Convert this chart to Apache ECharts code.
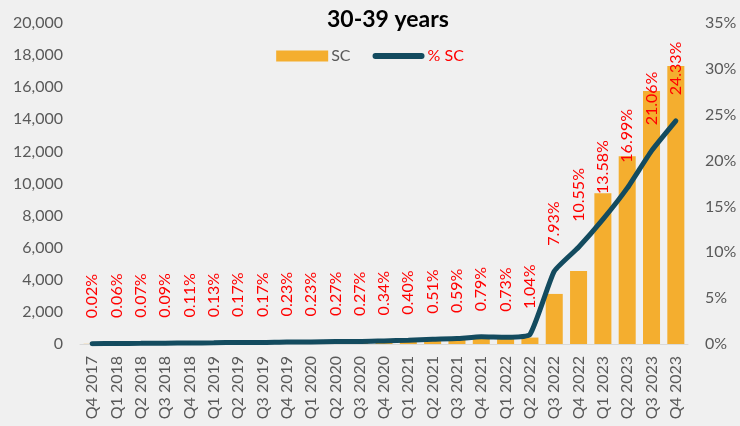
<!DOCTYPE html>
<html>
<head>
<meta charset="utf-8">
<script src="https://cdn.jsdelivr.net/npm/echarts@6/dist/echarts.min.js"></script>
<style>
  html, body { margin: 0; padding: 0; background: #f0f0f0; }
  #chart { width: 740px; height: 426px; }
</style>
</head>
<body>
<div id="chart"></div>
<script>
// 数据
const quarters = ['Q4 2017', 'Q1 2018', 'Q2 2018', 'Q3 2018', 'Q4 2018', 'Q1 2019', 'Q2 2019', 'Q3 2019',
  'Q4 2019', 'Q1 2020', 'Q2 2020', 'Q3 2020', 'Q4 2020', 'Q1 2021', 'Q2 2021', 'Q3 2021', 'Q4 2021',
  'Q1 2022', 'Q2 2022', 'Q3 2022', 'Q4 2022', 'Q1 2023', 'Q2 2023', 'Q3 2023', 'Q4 2023'];
const scCount = [10, 30, 35, 45, 55, 65, 85, 85, 115, 115, 135, 135, 170, 200, 250, 290, 390, 360, 400,
  3120, 4550, 9400, 11700, 15760, 17320];
const scPct = [0.02, 0.06, 0.07, 0.09, 0.11, 0.13, 0.17, 0.17, 0.23, 0.23, 0.27, 0.27, 0.34, 0.40, 0.51,
  0.59, 0.79, 0.73, 1.04, 7.93, 10.55, 13.58, 16.99, 21.06, 24.33];
const leftTicks = { min: 0, max: 20000, interval: 2000 };
const rightTicks = { min: 0, max: 35, interval: 5 };

const font = 'Lato, "Open Sans", sans-serif';
const lineColor = '#134b5f';
const chart = echarts.init(document.getElementById('chart'), null, { renderer: 'canvas' });

chart.setOption({
  backgroundColor: '#f0f0f0',
  animation: false,
  title: {
    text: '30-39 years',
    left: 322,
    top: 3,
    textStyle: { fontFamily: font, fontSize: 23, fontWeight: 'bold', color: '#000' },
  },
  legend: {
    top: 43,
    left: 'center',
    itemGap: 22,
    itemWidth: 52,
    itemHeight: 11,
    textStyle: { fontFamily: font, fontSize: 16, color: '#595959', padding: [0, 0, 0, -2] },
    data: [
      { name: 'SC', icon: 'rect' },
      {
        name: '% SC',
        icon: 'path://M3,0 L51,0 A3,3 0 0 1 51,6 L3,6 A3,3 0 0 1 3,0 Z',
        itemStyle: { color: lineColor, opacity: 1 },
        textStyle: { color: '#ff0000' },
      },
    ],
  },
  grid: { left: 80, right: 52, top: 23, bottom: 82 },
  xAxis: {
    type: 'category',
    data: quarters,
    axisLine: { lineStyle: { color: '#d9d9d9', width: 1 } },
    axisTick: { show: false },
    axisLabel: { rotate: 90, interval: 0, fontFamily: font, fontSize: 16, color: '#595959', margin: 12 },
  },
  yAxis: [
    {
      type: 'value',
      min: leftTicks.min,
      max: leftTicks.max,
      interval: leftTicks.interval,
      splitLine: { show: false },
      axisLine: { show: false },
      axisLabel: {
        fontFamily: font, fontSize: 16, color: '#595959', margin: 17,
        formatter: v => v.toLocaleString('en-US'),
      },
    },
    {
      type: 'value',
      min: rightTicks.min,
      max: rightTicks.max,
      interval: rightTicks.interval,
      splitLine: { show: false },
      axisLine: { show: false },
      axisLabel: { fontFamily: font, fontSize: 16, color: '#595959', margin: 17, formatter: '{value}%' },
    },
  ],
  series: [
    {
      name: 'SC',
      type: 'bar',
      data: scCount,
      barCategoryGap: '30%',
      itemStyle: { color: '#f4ae2f' },
    },
    {
      name: '% SC',
      type: 'line',
      yAxisIndex: 1,
      data: scPct,
      smooth: 0.15,
      symbol: 'circle',
      symbolSize: 3,
      showSymbol: true,
      lineStyle: { color: lineColor, width: 5, cap: 'round' },
      itemStyle: { color: lineColor },
      label: {
        show: true,
        position: 'top',
        distance: 24,
        rotate: 90,
        align: 'left',
        verticalAlign: 'middle',
        fontFamily: font,
        fontSize: 16,
        color: '#ff0000',
        formatter: p => p.value.toFixed(2) + '%',
      },
    },
  ],
});
</script>
</body>
</html>
